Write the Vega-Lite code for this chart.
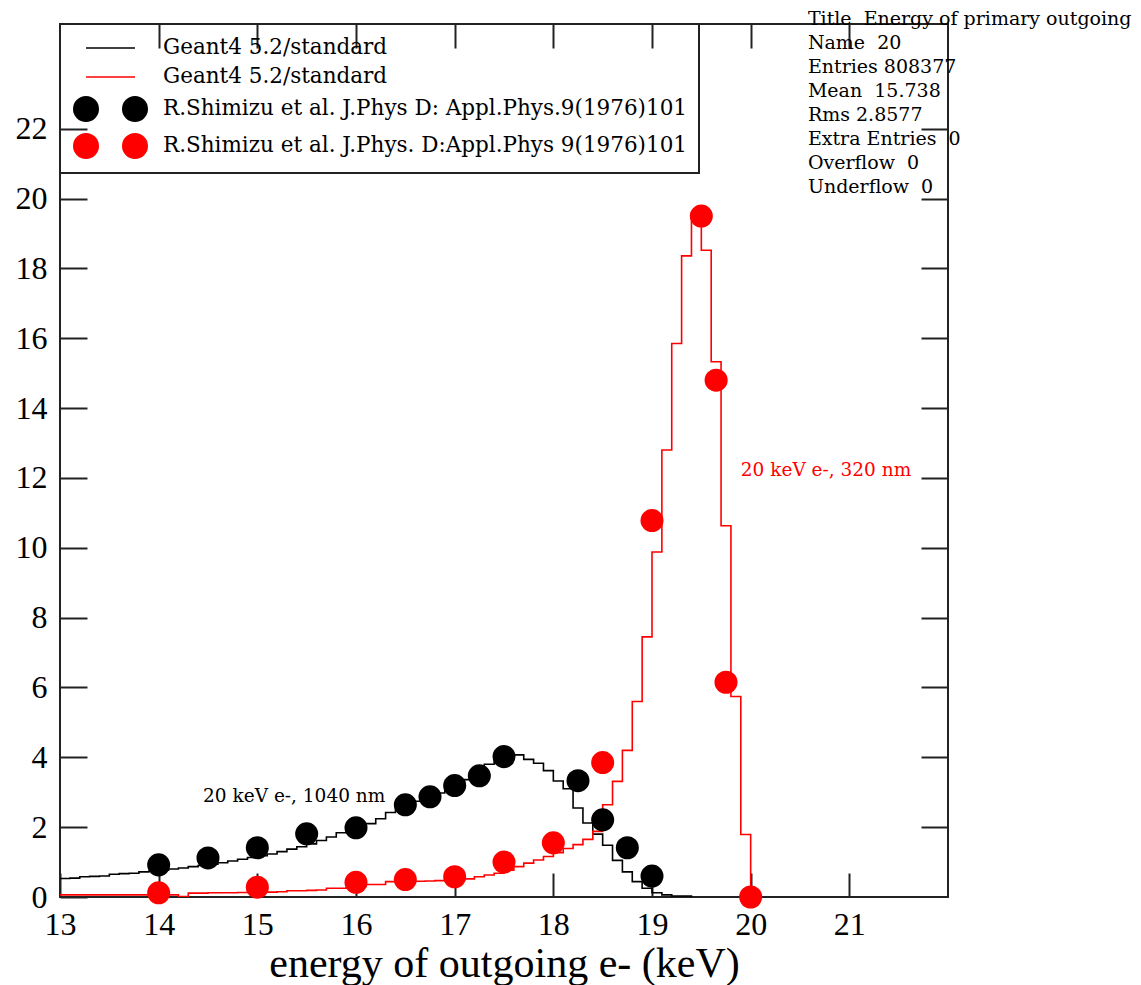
{
  "$schema": "https://vega.github.io/schema/vega-lite/v6.json",
  "width": 888,
  "height": 873,
  "autosize": "none",
  "padding": {"left": 60, "top": 24, "right": 193, "bottom": 88},
  "background": "white",
  "config": {
    "view": {"stroke": "#222", "strokeWidth": 2},
    "axis": {"domain": false, "grid": false, "labelFont": "Liberation Serif", "labelFontSize": 32, "labelColor": "black", "tickColor": "#222", "tickWidth": 2, "zindex": 1, "titleFont": "Liberation Serif", "titleFontWeight": "normal", "titleColor": "black"}
  },
  "datasets": {
    "hist": [
      {"energy": 13.0, "Geant4, 1040 nm": 0.53, "Geant4, 320 nm": 0.06},
      {"energy": 13.1, "Geant4, 1040 nm": 0.54, "Geant4, 320 nm": 0.06},
      {"energy": 13.2, "Geant4, 1040 nm": 0.58, "Geant4, 320 nm": 0.06},
      {"energy": 13.3, "Geant4, 1040 nm": 0.59, "Geant4, 320 nm": 0.06},
      {"energy": 13.4, "Geant4, 1040 nm": 0.60, "Geant4, 320 nm": 0.06},
      {"energy": 13.5, "Geant4, 1040 nm": 0.65, "Geant4, 320 nm": 0.06},
      {"energy": 13.6, "Geant4, 1040 nm": 0.67, "Geant4, 320 nm": 0.06},
      {"energy": 13.7, "Geant4, 1040 nm": 0.68, "Geant4, 320 nm": 0.06},
      {"energy": 13.8, "Geant4, 1040 nm": 0.72, "Geant4, 320 nm": 0.06},
      {"energy": 13.9, "Geant4, 1040 nm": 0.74, "Geant4, 320 nm": 0.06},
      {"energy": 14.0, "Geant4, 1040 nm": 0.77, "Geant4, 320 nm": 0.06},
      {"energy": 14.1, "Geant4, 1040 nm": 0.80, "Geant4, 320 nm": 0.06},
      {"energy": 14.2, "Geant4, 1040 nm": 0.83, "Geant4, 320 nm": 0.01},
      {"energy": 14.3, "Geant4, 1040 nm": 0.87, "Geant4, 320 nm": 0.11},
      {"energy": 14.4, "Geant4, 1040 nm": 0.90, "Geant4, 320 nm": 0.11},
      {"energy": 14.5, "Geant4, 1040 nm": 0.94, "Geant4, 320 nm": 0.12},
      {"energy": 14.6, "Geant4, 1040 nm": 0.98, "Geant4, 320 nm": 0.12},
      {"energy": 14.7, "Geant4, 1040 nm": 1.03, "Geant4, 320 nm": 0.12},
      {"energy": 14.8, "Geant4, 1040 nm": 1.08, "Geant4, 320 nm": 0.13},
      {"energy": 14.9, "Geant4, 1040 nm": 1.13, "Geant4, 320 nm": 0.13},
      {"energy": 15.0, "Geant4, 1040 nm": 1.18, "Geant4, 320 nm": 0.14},
      {"energy": 15.1, "Geant4, 1040 nm": 1.23, "Geant4, 320 nm": 0.14},
      {"energy": 15.2, "Geant4, 1040 nm": 1.30, "Geant4, 320 nm": 0.15},
      {"energy": 15.3, "Geant4, 1040 nm": 1.37, "Geant4, 320 nm": 0.18},
      {"energy": 15.4, "Geant4, 1040 nm": 1.44, "Geant4, 320 nm": 0.18},
      {"energy": 15.5, "Geant4, 1040 nm": 1.52, "Geant4, 320 nm": 0.19},
      {"energy": 15.6, "Geant4, 1040 nm": 1.62, "Geant4, 320 nm": 0.20},
      {"energy": 15.7, "Geant4, 1040 nm": 1.72, "Geant4, 320 nm": 0.25},
      {"energy": 15.8, "Geant4, 1040 nm": 1.84, "Geant4, 320 nm": 0.25},
      {"energy": 15.9, "Geant4, 1040 nm": 1.95, "Geant4, 320 nm": 0.26},
      {"energy": 16.0, "Geant4, 1040 nm": 2.03, "Geant4, 320 nm": 0.30},
      {"energy": 16.1, "Geant4, 1040 nm": 2.10, "Geant4, 320 nm": 0.36},
      {"energy": 16.2, "Geant4, 1040 nm": 2.24, "Geant4, 320 nm": 0.36},
      {"energy": 16.3, "Geant4, 1040 nm": 2.42, "Geant4, 320 nm": 0.44},
      {"energy": 16.4, "Geant4, 1040 nm": 2.52, "Geant4, 320 nm": 0.44},
      {"energy": 16.5, "Geant4, 1040 nm": 2.62, "Geant4, 320 nm": 0.45},
      {"energy": 16.6, "Geant4, 1040 nm": 2.74, "Geant4, 320 nm": 0.45},
      {"energy": 16.7, "Geant4, 1040 nm": 2.86, "Geant4, 320 nm": 0.46},
      {"energy": 16.8, "Geant4, 1040 nm": 2.98, "Geant4, 320 nm": 0.47},
      {"energy": 16.9, "Geant4, 1040 nm": 3.12, "Geant4, 320 nm": 0.47},
      {"energy": 17.0, "Geant4, 1040 nm": 3.16, "Geant4, 320 nm": 0.48},
      {"energy": 17.1, "Geant4, 1040 nm": 3.36, "Geant4, 320 nm": 0.52},
      {"energy": 17.2, "Geant4, 1040 nm": 3.55, "Geant4, 320 nm": 0.58},
      {"energy": 17.3, "Geant4, 1040 nm": 3.80, "Geant4, 320 nm": 0.63},
      {"energy": 17.4, "Geant4, 1040 nm": 3.92, "Geant4, 320 nm": 0.68},
      {"energy": 17.5, "Geant4, 1040 nm": 4.02, "Geant4, 320 nm": 0.77},
      {"energy": 17.6, "Geant4, 1040 nm": 4.07, "Geant4, 320 nm": 0.87},
      {"energy": 17.7, "Geant4, 1040 nm": 3.94, "Geant4, 320 nm": 0.97},
      {"energy": 17.8, "Geant4, 1040 nm": 3.83, "Geant4, 320 nm": 1.06},
      {"energy": 17.9, "Geant4, 1040 nm": 3.62, "Geant4, 320 nm": 1.16},
      {"energy": 18.0, "Geant4, 1040 nm": 3.32, "Geant4, 320 nm": 1.27},
      {"energy": 18.1, "Geant4, 1040 nm": 3.10, "Geant4, 320 nm": 1.39},
      {"energy": 18.2, "Geant4, 1040 nm": 2.55, "Geant4, 320 nm": 1.50},
      {"energy": 18.3, "Geant4, 1040 nm": 2.12, "Geant4, 320 nm": 1.65},
      {"energy": 18.4, "Geant4, 1040 nm": 1.80, "Geant4, 320 nm": 1.88},
      {"energy": 18.5, "Geant4, 1040 nm": 1.48, "Geant4, 320 nm": 2.64},
      {"energy": 18.6, "Geant4, 1040 nm": 1.05, "Geant4, 320 nm": 3.31},
      {"energy": 18.7, "Geant4, 1040 nm": 0.72, "Geant4, 320 nm": 4.20},
      {"energy": 18.8, "Geant4, 1040 nm": 0.44, "Geant4, 320 nm": 5.60},
      {"energy": 18.9, "Geant4, 1040 nm": 0.25, "Geant4, 320 nm": 7.45},
      {"energy": 19.0, "Geant4, 1040 nm": 0.12, "Geant4, 320 nm": 9.88},
      {"energy": 19.1, "Geant4, 1040 nm": 0.06, "Geant4, 320 nm": 12.80},
      {"energy": 19.2, "Geant4, 1040 nm": 0.03, "Geant4, 320 nm": 15.85},
      {"energy": 19.3, "Geant4, 1040 nm": 0.03, "Geant4, 320 nm": 18.36},
      {"energy": 19.4, "Geant4, 1040 nm": 0.0, "Geant4, 320 nm": 19.60},
      {"energy": 19.5, "Geant4, 320 nm": 18.52},
      {"energy": 19.6, "Geant4, 320 nm": 15.33},
      {"energy": 19.7, "Geant4, 320 nm": 10.63},
      {"energy": 19.8, "Geant4, 320 nm": 5.74},
      {"energy": 19.9, "Geant4, 320 nm": 1.79},
      {"energy": 20.0, "Geant4, 320 nm": 0.0}
    ],
    "shimizu": [
      {"series": "Shimizu, 1040 nm", "energy": 14.0, "value": 0.92},
      {"series": "Shimizu, 1040 nm", "energy": 14.5, "value": 1.12},
      {"series": "Shimizu, 1040 nm", "energy": 15.0, "value": 1.41},
      {"series": "Shimizu, 1040 nm", "energy": 15.5, "value": 1.81},
      {"series": "Shimizu, 1040 nm", "energy": 16.0, "value": 1.98},
      {"series": "Shimizu, 1040 nm", "energy": 16.5, "value": 2.64},
      {"series": "Shimizu, 1040 nm", "energy": 16.75, "value": 2.87},
      {"series": "Shimizu, 1040 nm", "energy": 17.0, "value": 3.19},
      {"series": "Shimizu, 1040 nm", "energy": 17.25, "value": 3.47},
      {"series": "Shimizu, 1040 nm", "energy": 17.5, "value": 4.02},
      {"series": "Shimizu, 1040 nm", "energy": 18.25, "value": 3.33},
      {"series": "Shimizu, 1040 nm", "energy": 18.5, "value": 2.21},
      {"series": "Shimizu, 1040 nm", "energy": 18.75, "value": 1.41},
      {"series": "Shimizu, 1040 nm", "energy": 19.0, "value": 0.6},
      {"series": "Shimizu, 320 nm", "energy": 14.0, "value": 0.12},
      {"series": "Shimizu, 320 nm", "energy": 15.0, "value": 0.28},
      {"series": "Shimizu, 320 nm", "energy": 16.0, "value": 0.42},
      {"series": "Shimizu, 320 nm", "energy": 16.5, "value": 0.5},
      {"series": "Shimizu, 320 nm", "energy": 17.0, "value": 0.58},
      {"series": "Shimizu, 320 nm", "energy": 17.5, "value": 1.0},
      {"series": "Shimizu, 320 nm", "energy": 18.0, "value": 1.55},
      {"series": "Shimizu, 320 nm", "energy": 18.5, "value": 3.85},
      {"series": "Shimizu, 320 nm", "energy": 19.0, "value": 10.78},
      {"series": "Shimizu, 320 nm", "energy": 19.5, "value": 19.5},
      {"series": "Shimizu, 320 nm", "energy": 19.65, "value": 14.8},
      {"series": "Shimizu, 320 nm", "energy": 19.75, "value": 6.15},
      {"series": "Shimizu, 320 nm", "energy": 20.0, "value": 0.0}
    ],
    "notes": [
      {"series": "Geant4, 1040 nm", "energy": 14.45, "value": 2.73, "label": "20 keV e-, 1040 nm"},
      {"series": "Geant4, 320 nm", "energy": 19.9, "value": 12.06, "label": "20 keV e-, 320 nm"}
    ],
    "stats": [
      {"energy": 20.58, "value": 24.98, "label": "Title\u00a0 Energy of primary outgoing\nName\u00a0 20\nEntries 808377\nMean\u00a0 15.738\nRms 2.8577\nExtra Entries\u00a0 0\nOverflow\u00a0 0\nUnderflow\u00a0 0"}
    ]
  },
  "layer": [
    {
      "data": {"name": "hist"},
      "transform": [{"fold": ["Geant4, 1040 nm", "Geant4, 320 nm"], "as": ["series", "value"]}],
      "mark": {"type": "line", "interpolate": "step-after", "strokeWidth": 1.6, "clip": true},
      "encoding": {
        "x": {"field": "energy", "type": "quantitative", "scale": {"domain": [13, 22], "nice": false, "zero": false},
          "axis": {"orient": "bottom", "values": [13, 14, 15, 16, 17, 18, 19, 20, 21], "tickSize": -24, "labelPadding": 36, "labelFlush": false, "labelOverlap": false, "title": "energy of outgoing e- (keV)", "titleFontSize": 42, "titlePadding": 3}},
        "y": {"field": "value", "type": "quantitative", "scale": {"domain": [0, 25], "nice": false, "zero": true},
          "axis": {"orient": "left", "values": [0, 2, 4, 6, 8, 10, 12, 14, 16, 18, 20, 22], "tickSize": -27, "labelPadding": 40, "labelFlush": false, "labelOverlap": false, "title": null}},
        "color": {"field": "series", "type": "nominal",
          "scale": {"domain": ["Geant4, 1040 nm", "Geant4, 320 nm", "Shimizu, 1040 nm", "Shimizu, 320 nm"], "range": ["#000000", "#ff0000", "#000000", "#ff0000"]},
          "legend": {
            "title": null, "orient": "top-left", "offset": 0, "padding": 11, "zindex": 0,
            "fillColor": "transparent", "strokeColor": "#222",
            "labelFont": "DejaVu Serif", "labelFontSize": 21.5, "labelColor": "black", "labelLimit": 800,
            "symbolSize": 600, "symbolStrokeWidth": 1.5, "symbolOffset": 26.5, "labelOffset": 39.5, "rowPadding": 5,
            "labelExpr": "indexof(datum.label, 'Geant4') === 0 ? 'Geant4 5.2/standard' : (datum.label === 'Shimizu, 1040 nm' ? 'R.Shimizu et al. J.Phys D: Appl.Phys.9(1976)101' : 'R.Shimizu et al. J.Phys. D:Appl.Phys 9(1976)101')",
            "encode": {
              "legend": {"update": {"strokeWidth": {"value": 2}}},
              "symbols": {"update": {
                "shape": {"signal": "indexof(datum.value, 'Geant4') === 0 ? 'M -2 0 L 2 0' : 'M -3 0 A 1 1 0 1 1 -1 0 A 1 1 0 1 1 -3 0 Z M 1 0 A 1 1 0 1 1 3 0 A 1 1 0 1 1 1 0 Z'"},
                "fill": {"signal": "indexof(datum.value, 'Geant4') === 0 ? 'transparent' : scale('color', datum.value)"},
                "stroke": {"signal": "scale('color', datum.value)"},
                "strokeWidth": {"value": 1.5},
                "opacity": {"value": 1}
              }}
            }
          }
        }
      }
    },
    {
      "data": {"name": "shimizu"},
      "mark": {"type": "point", "shape": "circle", "filled": true, "size": 530, "opacity": 1, "strokeWidth": 0},
      "encoding": {
        "x": {"field": "energy", "type": "quantitative",
          "axis": {"orient": "top", "values": [14, 15, 16, 17, 18, 19, 20, 21], "tickSize": -24, "labels": false, "title": null}},
        "y": {"field": "value", "type": "quantitative",
          "axis": {"orient": "right", "values": [2, 4, 6, 8, 10, 12, 14, 16, 18, 20, 22], "tickSize": -27, "labels": false, "title": null}},
        "color": {"field": "series", "type": "nominal"}
      }
    },
    {
      "data": {"name": "notes"},
      "mark": {"type": "text", "align": "left", "baseline": "alphabetic", "font": "DejaVu Serif", "fontSize": 18.5},
      "encoding": {
        "x": {"field": "energy", "type": "quantitative", "axis": null},
        "y": {"field": "value", "type": "quantitative", "axis": null},
        "text": {"field": "label"},
        "color": {"field": "series", "type": "nominal"}
      }
    },
    {
      "data": {"name": "stats"},
      "mark": {"type": "text", "align": "left", "baseline": "alphabetic", "font": "DejaVu Serif", "fontSize": 19, "lineHeight": 24, "lineBreak": "\n", "color": "black", "clip": false},
      "encoding": {
        "x": {"field": "energy", "type": "quantitative", "axis": null},
        "y": {"field": "value", "type": "quantitative", "axis": null},
        "text": {"field": "label"}
      }
    }
  ],
  "resolve": {"axis": {"x": "independent", "y": "independent"}}
}
